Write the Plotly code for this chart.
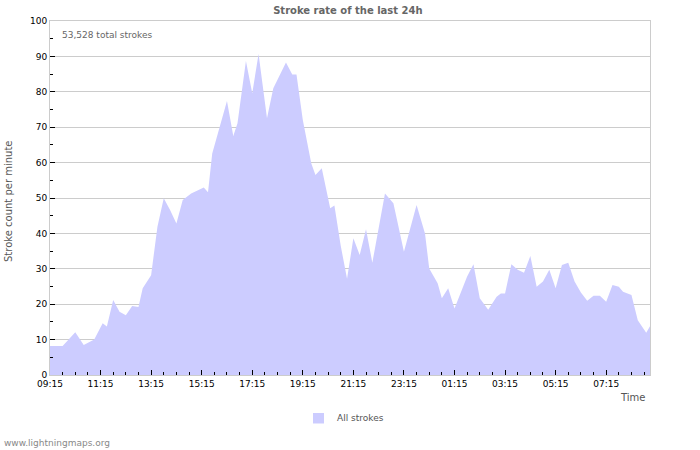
import plotly.graph_objects as go

# Data (time of day, strokes per minute)
times = [
    "2024-01-01 09:15", "2024-01-01 09:45", "2024-01-01 10:15", "2024-01-01 10:35",
    "2024-01-01 11:00", "2024-01-01 11:20", "2024-01-01 11:30", "2024-01-01 11:45",
    "2024-01-01 12:00", "2024-01-01 12:15", "2024-01-01 12:30", "2024-01-01 12:45",
    "2024-01-01 12:55", "2024-01-01 13:15", "2024-01-01 13:30", "2024-01-01 13:45",
    "2024-01-01 14:00", "2024-01-01 14:15", "2024-01-01 14:30", "2024-01-01 14:50",
    "2024-01-01 15:20", "2024-01-01 15:30", "2024-01-01 15:40", "2024-01-01 16:00",
    "2024-01-01 16:15", "2024-01-01 16:30", "2024-01-01 16:40", "2024-01-01 17:00",
    "2024-01-01 17:15", "2024-01-01 17:30", "2024-01-01 17:50", "2024-01-01 18:05",
    "2024-01-01 18:35", "2024-01-01 18:50", "2024-01-01 19:00", "2024-01-01 19:15",
    "2024-01-01 19:35", "2024-01-01 19:45", "2024-01-01 20:00", "2024-01-01 20:20",
    "2024-01-01 20:30", "2024-01-01 20:45", "2024-01-01 21:00", "2024-01-01 21:15",
    "2024-01-01 21:30", "2024-01-01 21:45", "2024-01-01 22:00", "2024-01-01 22:30",
    "2024-01-01 22:50", "2024-01-01 23:15", "2024-01-01 23:45", "2024-01-02 00:05",
    "2024-01-02 00:15", "2024-01-02 00:35", "2024-01-02 00:45", "2024-01-02 01:00",
    "2024-01-02 01:15", "2024-01-02 01:45", "2024-01-02 02:00", "2024-01-02 02:15",
    "2024-01-02 02:35", "2024-01-02 02:55", "2024-01-02 03:05", "2024-01-02 03:15",
    "2024-01-02 03:30", "2024-01-02 03:45", "2024-01-02 04:00", "2024-01-02 04:15",
    "2024-01-02 04:30", "2024-01-02 04:45", "2024-01-02 05:00", "2024-01-02 05:15",
    "2024-01-02 05:30", "2024-01-02 05:45", "2024-01-02 06:00", "2024-01-02 06:15",
    "2024-01-02 06:30", "2024-01-02 06:45", "2024-01-02 07:00", "2024-01-02 07:15",
    "2024-01-02 07:30", "2024-01-02 07:45", "2024-01-02 07:55", "2024-01-02 08:15",
    "2024-01-02 08:30", "2024-01-02 08:50", "2024-01-02 08:59",
]
strokes = [
    8.2, 8.2, 12.1, 8.5,
    10.0, 14.6, 13.7, 21.2,
    17.9, 16.9, 19.5, 19.2,
    24.5, 28.2, 41.9, 49.9,
    46.6, 42.8, 49.4, 51.3,
    53.0, 51.6, 62.6, 71.1,
    77.4, 67.5, 71.1, 88.7,
    79.6, 90.7, 72.5, 81.0,
    88.3, 84.9, 84.9, 72.0,
    59.8, 56.5, 58.4, 47.1,
    47.9, 36.5, 27.2, 38.6,
    33.9, 41.2, 31.7, 51.3,
    48.5, 34.8, 48.0, 40.0,
    30.1, 25.9, 21.7, 24.5,
    18.8, 27.8, 31.3, 21.7,
    18.4, 22.1, 23.0, 23.0,
    31.3, 29.7, 28.9, 33.6,
    24.9, 26.4, 29.7, 24.5,
    31.1, 31.7, 26.4, 23.3,
    21.0, 22.4, 22.4, 20.7,
    25.4, 24.9, 23.5, 22.6,
    15.5, 11.9, 13.8,
]
series_name = "All strokes"
title_text = "Stroke rate of the last 24h"
total_text = "53,528 total strokes"
y_title = "Stroke count per minute"
x_title = "Time"
footer = "www.lightningmaps.org"

FILL = "#ccccff"
FONT = "DejaVu Sans"

fig = go.Figure()
fig.add_trace(go.Scatter(
    x=times, y=strokes, mode="lines", fill="tozeroy",
    fillcolor=FILL, line=dict(width=0, color=FILL),
    name=series_name, showlegend=False, hoverinfo="x+y",
))

fig.update_layout(
    width=700, height=450,
    margin=dict(l=50, r=50, t=21, b=75),
    paper_bgcolor="white", plot_bgcolor="white",
    font=dict(family=FONT, size=9, color="#000"),
    showlegend=False,
    title=dict(text="<b>" + title_text + "</b>", x=0.497, xanchor="center",
               y=1 - 10 / 450, yanchor="middle",
               font=dict(family=FONT, size=10, color="#666")),
    xaxis=dict(
        type="date",
        range=["2024-01-01 09:15", "2024-01-02 08:59"],
        tick0="2024-01-01 09:15", dtick=2 * 3600 * 1000,
        tickformat="%H:%M",
        ticks="inside", ticklen=5, tickcolor="#000", tickwidth=1,
        minor=dict(dtick=30 * 60 * 1000, tick0="2024-01-01 09:15",
                   ticks="inside", ticklen=3, tickcolor="#000", showgrid=False),
        showgrid=False, zeroline=False,
        showline=True, linecolor="#ccc", linewidth=1, mirror=True,
        tickfont=dict(family=FONT, size=9, color="#000"),
    ),
    yaxis=dict(
        range=[0, 100], dtick=10, tick0=0,
        ticks="inside", ticklen=5, tickcolor="#000", tickwidth=1,
        minor=dict(dtick=5, ticks="inside", ticklen=3, tickcolor="#000", showgrid=False),
        showgrid=True, gridcolor="#ccc", gridwidth=1, zeroline=False,
        showline=True, linecolor="#ccc", linewidth=1, mirror=True,
        tickfont=dict(family=FONT, size=9, color="#000"),
    ),
)

W, H = 600.0, 354.0
def px(x):
    return (x - 50) / W
def py(y):
    return (375 - y) / H

annotations = [
    dict(text=total_text, x=px(60), y=py(34.5), xanchor="left", yanchor="middle",
         font=dict(family=FONT, size=9, color="#666")),
    dict(text=y_title, x=px(8), y=py(201), xanchor="center", yanchor="middle",
         textangle=-90, font=dict(family=FONT, size=10, color="#555")),
    dict(text=x_title, x=px(647), y=py(397), xanchor="right", yanchor="middle",
         font=dict(family=FONT, size=10, color="#555")),
    dict(text=series_name, x=px(335), y=py(418), xanchor="left", yanchor="middle",
         font=dict(family=FONT, size=9, color="#555")),
    dict(text=footer, x=px(2), y=py(443), xanchor="left", yanchor="middle",
         font=dict(family=FONT, size=9, color="#888")),
]
for a in annotations:
    a.update(xref="paper", yref="paper", showarrow=False)
fig.update_layout(annotations=annotations)

fig.add_shape(type="rect", xref="paper", yref="paper",
              x0=px(313), x1=px(324), y0=py(413), y1=py(423.5),
              fillcolor=FILL, line=dict(width=0))

fig.write_html("out.html")
